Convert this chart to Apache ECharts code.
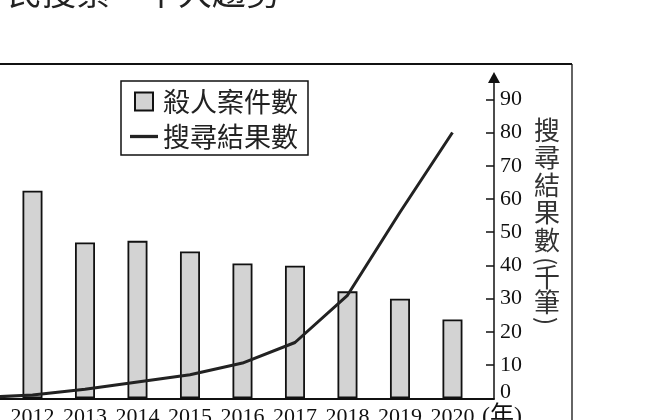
<!DOCTYPE html>
<html>
<head>
<meta charset="utf-8">
<script src="https://cdn.jsdelivr.net/npm/echarts@6/dist/echarts.min.js"></script>
<style>
  html, body { margin: 0; padding: 0; background: #fff; }
  #chart { width: 660px; height: 420px; }
</style>
</head>
<body>
<div id="chart"></div>
<script>
// years on the x axis (2011 is off the left edge of the crop)
var years = [2011, 2012, 2013, 2014, 2015, 2016, 2017, 2018, 2019, 2020];
var yearLabels = [2012, 2013, 2014, 2015, 2016, 2017, 2018, 2019, 2020];
// murder cases (left axis not visible, read on the same scale as right axis)
var murders = [null, 62.5, 46.9, 47.4, 44.2, 40.6, 39.9, 32.2, 30.0, 23.7];
// search results (thousands)
var searches = [0.2, 1.0, 2.7, 4.9, 7.1, 10.6, 16.8, 31, 56, 80];
var yTicks = [0, 10, 20, 30, 40, 50, 60, 70, 80, 90];

var serif = '"Liberation Serif", "Noto Sans CJK TC", serif';
var cjk = '"Noto Sans CJK TC", sans-serif';

function pairs(vals) {
    return years.map(function (y, i) { return [y, vals[i]]; });
}

var chart = echarts.init(document.getElementById('chart'), null, {renderer: 'canvas'});
var opt = {
    animation: false,
    backgroundColor: '#fff',
    grid: {left: 0, right: 166, top: 77.5, bottom: 21.7, containLabel: false, outerBoundsMode: 'none'},
    legend: {
        orient: 'vertical',
        left: 121, top: 81,
        padding: [7, 10, 5, 9],
        itemWidth: 28, itemHeight: 18, itemGap: 8,
        borderColor: '#111', borderWidth: 1.5,
        backgroundColor: '#fff',
        textStyle: {fontFamily: cjk, fontSize: 27, color: '#222'},
        data: [
            {name: '殺人案件數', icon: 'path://M0,0H10V10H0Z'},
            {name: '搜尋結果數', icon: 'path://M0,0H28V3.3H0Z'}
        ]
    },
    xAxis: {
        type: 'value',
        min: 2011.381, max: 2020.791,
        splitLine: {show: false},
        axisLine: {show: true, lineStyle: {color: '#111', width: 2}},
        axisTick: {show: false},
        axisLabel: {
            customValues: yearLabels,
            formatter: function (v) { return String(v); },
            fontFamily: serif, fontSize: 22, color: '#111', margin: 8
        },
        name: '(年)',
        nameLocation: 'end',
        nameGap: -12,
        nameTextStyle: {fontFamily: serif, fontSize: 24, color: '#111', align: 'left', verticalAlign: 'top', padding: [6, 0, 0, 0]}
    },
    yAxis: [{
        type: 'value',
        position: 'right',
        min: 0, max: 96.57,
        splitLine: {show: false},
        axisLine: {show: true, symbol: ['none', 'triangle'], symbolSize: [12, 11], lineStyle: {color: '#111', width: 1.5}},
        axisTick: {show: true, inside: true, length: 8, customValues: yTicks, lineStyle: {color: '#111', width: 1.5}},
        axisLabel: {
            customValues: yTicks,
            formatter: function (v) { return v === 0 ? '{z|0}' : String(v); },
            rich: {z: {fontFamily: serif, fontSize: 22, color: '#111', padding: [0, 0, 12, 0]}},
            fontFamily: serif, fontSize: 22, color: '#111', margin: 6
        }
    }, {
        type: 'value',
        position: 'left',
        min: 0, max: 96.57,
        show: false,
        splitLine: {show: false}
    }],
    graphic: [
        {type: 'line', shape: {x1: 0, y1: 64, x2: 572, y2: 64}, style: {stroke: '#111', lineWidth: 2}},
        {type: 'line', shape: {x1: 572, y1: 64, x2: 572, y2: 420}, style: {stroke: '#111', lineWidth: 1.3}},
        // title line of the page, mostly above the crop
        {type: 'text', x: 8, y: 9, style: {text: '民搜索　十大趨勢', font: '34px ' + cjk, fill: '#222', align: 'left', verticalAlign: 'bottom'}},
        // right axis name, written vertically
        {type: 'text', x: 547, y: 116, style: {text: '搜\n尋\n結\n果\n數', font: '26px ' + cjk, lineHeight: 27.5, fill: '#333', align: 'center', verticalAlign: 'top'}},
        {type: 'text', x: 547, y: 261, rotation: -Math.PI / 2, style: {text: '(', font: '24px ' + cjk, fill: '#333', align: 'center', verticalAlign: 'middle'}},
        {type: 'text', x: 547, y: 265, style: {text: '千\n筆', font: '26px ' + cjk, lineHeight: 25, fill: '#333', align: 'center', verticalAlign: 'top'}},
        {type: 'text', x: 547, y: 321, rotation: -Math.PI / 2, style: {text: ')', font: '24px ' + cjk, fill: '#333', align: 'center', verticalAlign: 'middle'}}
    ],
    series: [{
        name: '殺人案件數',
        type: 'bar',
        yAxisIndex: 1,
        barWidth: 20,
        data: pairs(murders),
        itemStyle: {color: '#d3d3d3', borderColor: '#111', borderWidth: 1.8}
    }, {
        name: '搜尋結果數',
        type: 'line',
        yAxisIndex: 0,
        symbol: 'none',
        z: 5,
        data: pairs(searches),
        lineStyle: {color: '#222', width: 3},
        itemStyle: {color: '#222'}
    }]
};
chart.setOption(opt);
</script>
</body>
</html>
